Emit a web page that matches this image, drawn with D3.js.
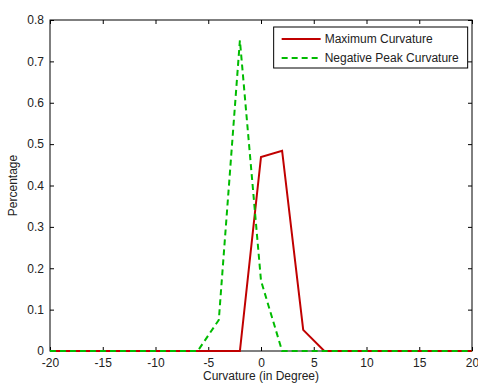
<!DOCTYPE html>
<html>
<head>
<meta charset="utf-8">
<script src="https://d3js.org/d3.v7.min.js"></script>
<style>
  body { margin: 0; background: #fff; }
  text { font-family: "Liberation Sans", Arial, sans-serif; }
</style>
</head>
<body>
<div id="chart"></div>
<script>
// Data
const curvature = [-20, -18, -16, -14, -12, -10, -8, -6, -4, -2, 0, 2, 4, 6, 8, 10, 12, 14, 16, 18, 20];
const maxCurv   = [0, 0, 0, 0, 0, 0, 0, 0, 0, 0, 0.469, 0.484, 0.051, 0, 0, 0, 0, 0, 0, 0, 0];
const negPeak   = [0, 0, 0, 0, 0, 0, 0, 0, 0.075, 0.751, 0.17, 0, 0, 0, 0, 0, 0, 0, 0, 0, 0];
const xTicks = [-20, -15, -10, -5, 0, 5, 10, 15, 20];
const yTicks = [0, 0.1, 0.2, 0.3, 0.4, 0.5, 0.6, 0.7, 0.8];
const seriesNames = ["Maximum Curvature", "Negative Peak Curvature"];

const margin = {top: 20, right: 6, bottom: 34, left: 50},
      width = 478 - margin.left - margin.right,
      height = 385 - margin.top - margin.bottom;

const svg = d3.select("#chart")
  .append("svg")
    .attr("width", 478)
    .attr("height", 385)
  .append("g")
    .attr("transform", `translate(${margin.left},${margin.top})`);

const x = d3.scaleLinear().domain([-20, 20]).range([0, width]);
const y = d3.scaleLinear().domain([0, 0.8]).range([height, 0]);

// Axes (ticks pointing inward, box on all sides)
svg.append("g")
    .attr("transform", `translate(0,${height})`)
    .call(d3.axisBottom(x).tickValues(xTicks).tickSize(-4).tickPadding(7).tickFormat(d => String(d)))
    .call(g => g.select(".domain").remove());
svg.append("g")
    .call(d3.axisTop(x).tickValues(xTicks).tickSize(-4).tickFormat(""))
    .call(g => g.select(".domain").remove());
svg.append("g")
    .call(d3.axisLeft(y).tickValues(yTicks).tickSize(-4).tickPadding(6).tickFormat(d => d === 0 ? "0" : d3.format(".1f")(d)))
    .call(g => g.select(".domain").remove());
svg.append("g")
    .attr("transform", `translate(${width},0)`)
    .call(d3.axisRight(y).tickValues(yTicks).tickSize(-4).tickFormat(""))
    .call(g => g.select(".domain").remove());

svg.selectAll(".tick text")
    .style("font-size", "12px")
    .attr("fill", "#222");

svg.append("rect")
    .attr("width", width)
    .attr("height", height)
    .attr("fill", "none")
    .attr("stroke", "#000")
    .attr("stroke-width", 1);

// Lines
const line = vals => d3.line()
    .x((d, i) => x(curvature[i]))
    .y(d => y(d))(vals);

svg.append("path")
    .attr("d", line(maxCurv))
    .attr("fill", "none")
    .attr("stroke", "#c00000")
    .attr("stroke-width", 2);

svg.append("path")
    .attr("d", line(negPeak))
    .attr("fill", "none")
    .attr("stroke", "#00bb00")
    .attr("stroke-width", 2)
    .attr("stroke-dasharray", "6,4");

// Axis labels
svg.append("text")
    .attr("x", x(0))
    .attr("y", height + 29)
    .attr("text-anchor", "middle")
    .style("font-size", "12px")
    .attr("fill", "#222")
    .text("Curvature (in Degree)");

svg.append("text")
    .attr("transform", `translate(-33,${height / 2}) rotate(-90)`)
    .attr("text-anchor", "middle")
    .style("font-size", "12px")
    .attr("fill", "#222")
    .text("Percentage");

// Legend
const legend = svg.append("g")
    .attr("transform", `translate(${x(1.2)},7)`);
legend.append("rect")
    .attr("width", 194)
    .attr("height", 41)
    .attr("fill", "#fff")
    .attr("stroke", "#000")
    .attr("stroke-width", 1);

const legendStyles = [
  {color: "#c00000", dash: null},
  {color: "#00bb00", dash: "6,4"}
];
seriesNames.forEach((name, i) => {
  const ly = 12 + i * 19;
  legend.append("line")
      .attr("x1", 8).attr("x2", 47)
      .attr("y1", ly).attr("y2", ly)
      .attr("stroke", legendStyles[i].color)
      .attr("stroke-width", 2)
      .attr("stroke-dasharray", legendStyles[i].dash);
  legend.append("text")
      .attr("x", 51)
      .attr("y", ly)
      .attr("dy", "0.35em")
      .style("font-size", "12px")
      .attr("fill", "#222")
      .text(name);
});
</script>
</body>
</html>
